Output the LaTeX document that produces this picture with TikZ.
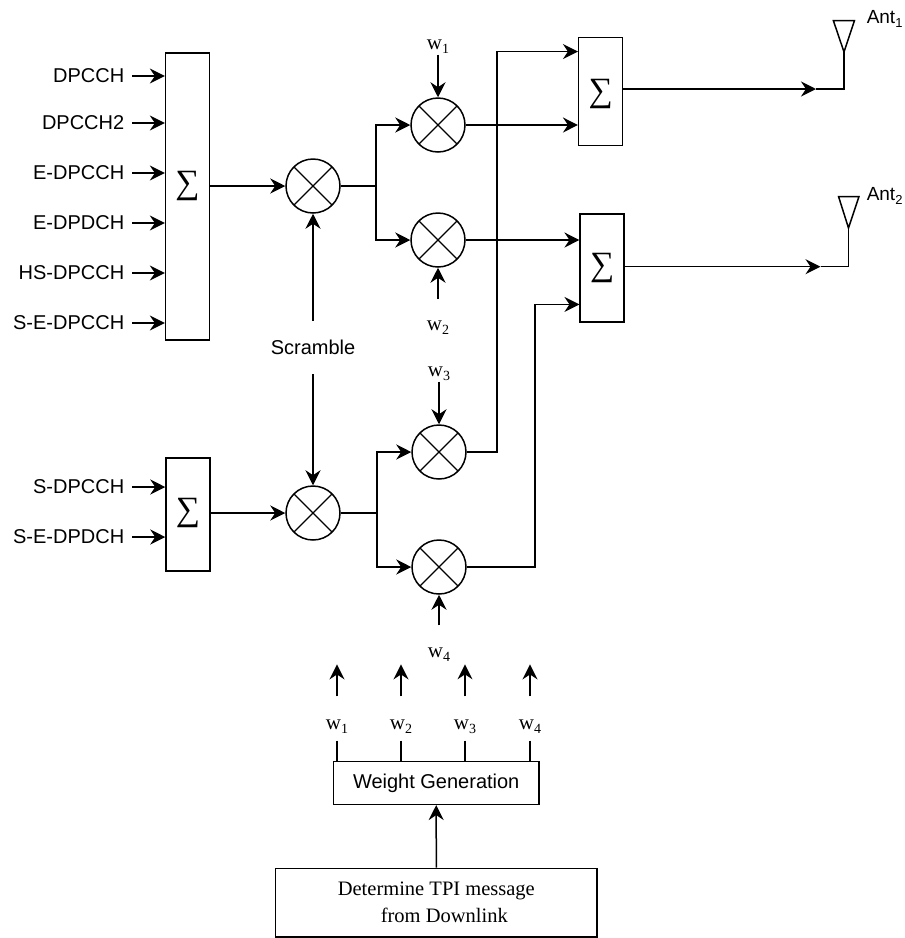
\documentclass[tikz,border=0pt]{standalone}
\usepackage{fontspec}
\setmainfont{Liberation Serif}
\setsansfont{Liberation Sans}
\usetikzlibrary{arrows.meta}
\newcommand{\wgt}[1]{w\raisebox{-4pt}{\fontsize{14}{14}\selectfont#1}}
\newcommand{\antsub}[1]{Ant\raisebox{-4pt}{\fontsize{13}{13}\selectfont#1}}

\begin{document}
\begin{tikzpicture}[x=1pt,y=-1pt,line width=1.5pt,
    >={Stealth[length=15pt,width=15pt,inset=5pt]},
    sumbox/.style={draw,inner sep=0pt,minimum width=44pt},
    sig/.style={font=\fontsize{34}{34}\selectfont,inner sep=0pt},
    mixer/.style={circle,draw,minimum size=54pt,inner sep=0pt,path picture={
        \draw[line width=1.1pt] (path picture bounding box.north west) -- (path picture bounding box.south east)
          (path picture bounding box.north east) -- (path picture bounding box.south west);}},
    chan/.style={font=\sffamily\fontsize{20}{24}\selectfont,anchor=east,inner sep=0pt},
    wlab/.style={font=\fontsize{21}{24}\selectfont,inner sep=0pt}]
  \useasboundingbox (0,0) rectangle (905,938);

  % upper sum and inputs
  \node[sumbox,minimum height=287pt] (sumA) at (187.6,196.7) {};
  \node[sig] (sigA) at (187.6,186) {∑};
  \foreach \y/\t [count=\i] in {76/DPCCH,123/DPCCH2,173/E-DPCCH,223/E-DPDCH,273/HS-DPCCH,323/S-E-DPCCH} {
    \node[chan] (in\i) at (125,\y) {\t};
    \draw[->] ([xshift=7pt]in\i.east) -- (in\i.east -| sumA.west);
  }

  % lower sum and inputs
  \node[sumbox,minimum height=113pt] (sumB) at (188,514.5) {};
  \node[sig] (sigB) at (188,513) {∑};
  \node[chan] (in7) at (125,487) {S-DPCCH};
  \node[chan] (in8) at (125,537) {S-E-DPDCH};
  \draw[->] ([xshift=7pt]in7.east) -- (in7.east -| sumB.west);
  \draw[->] ([xshift=7pt]in8.east) -- (in8.east -| sumB.west);

  % scrambling
  \node[mixer] (mA) at (313,186) {};
  \node[mixer] (mB) at (313,513) {};
  \draw[->] (sigA -| sumA.east) -- (mA);
  \draw[->] (sigB -| sumB.east) -- (mB);
  \node[font=\sffamily\fontsize{20}{24}\selectfont,inner sep=0pt] (scr) at (313,347) {Scramble};
  \draw[->] ([yshift=18pt]scr.north) -- (mA);
  \draw[->] ([yshift=-19pt]scr.south) -- (mB);

  % weighting
  \node[mixer] (m1) at (438,125) {};
  \node[mixer] (m2) at (438,240) {};
  \node[mixer] (m3) at (439,452) {};
  \node[mixer] (m4) at (439,567) {};
  \coordinate (brA) at ([xshift=35pt]mA.east);
  \coordinate (brB) at ([xshift=36pt]mB.east);
  \draw (mA) -- (brA);
  \draw[->] (brA) |- (m1);
  \draw[->] (brA) |- (m2);
  \draw (mB) -- (brB);
  \draw[->] (brB) |- (m3);
  \draw[->] (brB) |- (m4);

  \node[wlab] (w1) at (438,47) {\wgt1};
  \node[wlab] (w2) at (438,327.5) {\wgt2};
  \node[wlab] (w3) at (439,374) {\wgt3};
  \node[wlab] (w4) at (439,655) {\wgt4};
  \draw[->] (w1.south) -- (m1);
  \draw[->] ([yshift=20.7pt]w2.north) -- (m2);
  \draw[->] (w3.south) -- (m3);
  \draw[->] ([yshift=22pt]w4.north) -- (m4);

  % antenna sums
  \node[sumbox,minimum height=108pt] (sumC) at (600.7,91.7) {};
  \node[sig] (sigC) at (600.7,94) {∑};
  \node[sumbox,minimum height=107.7pt] (sumD) at (602.2,268) {};
  \node[sig] (sigD) at (602.2,267.5) {∑};
  \coordinate (inC) at ([yshift=-14.6pt]sumC.north west);
  \coordinate (inD) at ([yshift=-91pt]sumD.north west);
  \coordinate (upC) at (497,0);
  \coordinate (upD) at (535,0);
  \draw[->] (m1) -- (m1 -| sumC.west);
  \draw[->] (m2) -- (m2 -| sumD.west);
  \draw[->] (m3) -- (m3 -| upC) |- (inC);
  \draw[->] (m4) -- (m4 -| upD) |- (inD);

  % antennas
  \coordinate (antA) at (844,52);
  \coordinate (antB) at (848.5,228);
  \coordinate (tipA) at (816,89);
  \coordinate (tipB) at (820.5,266.7);
  \draw (antA) -- (833.4,20.7) -- (854.4,20.7) -- cycle;
  \draw (antB) -- (838.6,196.7) -- (858.9,196.7) -- cycle;
  \draw[->] (sumC.east |- tipA) -- (tipA);
  \draw (tipA) -- (tipA -| antA) -- (antA);
  \draw[->] (sumD.east |- tipB) -- (tipB);
  \draw (tipB) -- (tipB -| antB) -- (antB);
  \node[font=\sffamily\fontsize{19}{22}\selectfont,anchor=west,inner sep=0pt] (antlabA) at (866,19) {\antsub1};
  \node[font=\sffamily\fontsize{19}{22}\selectfont,anchor=west,inner sep=0pt] (antlabB) at (866,196) {\antsub2};

  % weight generation
  \node[draw,minimum width=205.7pt,minimum height=42.6pt,font=\sffamily\fontsize{20}{24}\selectfont] (wg) at (436.2,783) {Weight Generation};
  \node[draw,minimum width=321.3pt,minimum height=68.7pt,align=center,font=\fontsize{20.5}{26.7}\selectfont] (det) at (436.3,902.6) {Determine TPI message\\\hspace*{16pt}from Downlink};
  \draw[->] (det) -- (wg);
  \foreach \x [count=\i] in {337,401,465,530} {
    \node[wlab] (g\i) at (\x,727) {\wgt{\i}};
    \draw[->] ([yshift=23pt]g\i.north) -- ([yshift=55pt]g\i.north);
    \draw ([yshift=-6pt]g\i.south) -- (g\i.south |- wg.north);
  }
\end{tikzpicture}
\end{document}
